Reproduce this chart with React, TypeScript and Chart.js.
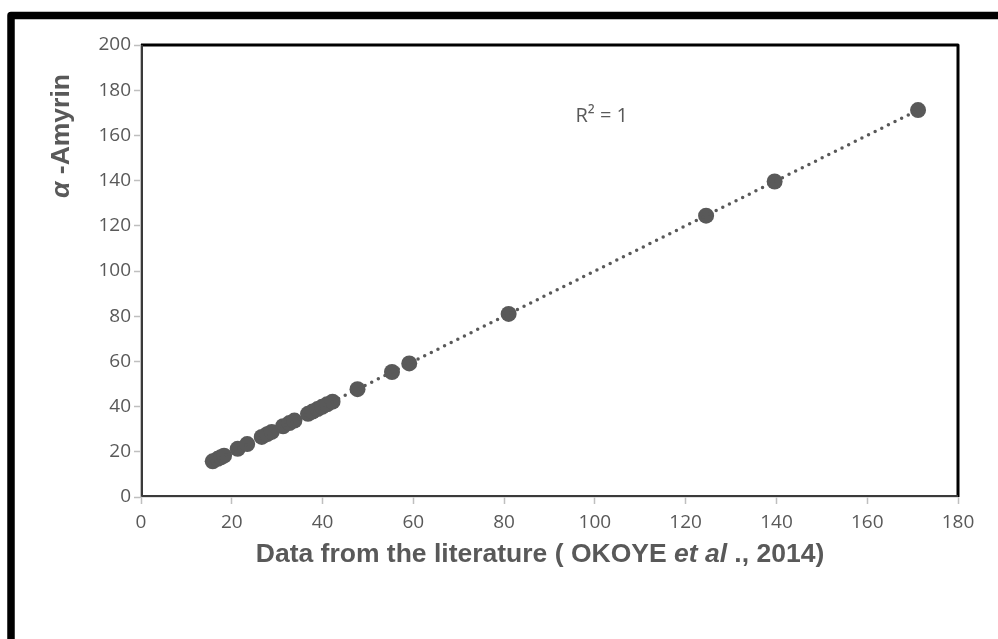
import React, { useEffect, useRef } from "react";
import { Chart, registerables } from "chart.js";

Chart.register(...registerables);

const literature: number[] = [15.8, 16.9, 17.6, 18.3, 21.3, 23.4, 26.6, 27.8, 28.8, 31.3, 32.7, 33.8, 36.8, 37.8, 38.9, 39.9, 41.0, 42.2, 47.7, 55.3, 59.1, 81.0, 124.5, 139.6, 171.2];
const amyrin: number[] = [15.8, 16.9, 17.6, 18.3, 21.3, 23.4, 26.6, 27.8, 28.8, 31.3, 32.7, 33.8, 36.8, 37.8, 38.9, 39.9, 41.0, 42.2, 47.7, 55.3, 59.1, 81.0, 124.5, 139.6, 171.2];
const xTicks: number[] = [0, 20, 40, 60, 80, 100, 120, 140, 160, 180];
const yTicks: number[] = [0, 20, 40, 60, 80, 100, 120, 140, 160, 180, 200];
const rSquaredLabel = "R² = 1";

function regression(xs: number[], ys: number[]) {
  const n = xs.length;
  const mx = xs.reduce((a, b) => a + b, 0) / n;
  const my = ys.reduce((a, b) => a + b, 0) / n;
  let sxy = 0, sxx = 0;
  for (let i = 0; i < n; i++) {
    sxy += (xs[i] - mx) * (ys[i] - my);
    sxx += (xs[i] - mx) * (xs[i] - mx);
  }
  const slope = sxy / sxx;
  return { slope, intercept: my - slope * mx };
}

const GREY = "#595959";

const decorPlugin = {
  id: "decor",
  afterDraw(chart: any) {
    const ctx = chart.ctx as CanvasRenderingContext2D;
    const a = chart.chartArea;
    ctx.save();
    // outer frame
    ctx.strokeStyle = "#000";
    ctx.lineWidth = 7.5;
    ctx.lineJoin = "round";
    ctx.strokeRect(11, 15.5, 1100, 800);
    // plot border
    ctx.lineWidth = 3;
    ctx.strokeStyle = "#000";
    ctx.beginPath();
    ctx.moveTo(a.left, a.top);
    ctx.lineTo(a.right, a.top);
    ctx.lineTo(a.right, a.bottom);
    ctx.stroke();
    ctx.lineWidth = 2;
    ctx.strokeStyle = "#3a3a3a";
    ctx.beginPath();
    ctx.moveTo(a.left + 1, a.top);
    ctx.lineTo(a.left + 1, a.bottom - 1);
    ctx.lineTo(a.right, a.bottom - 1);
    ctx.stroke();

    // x title with mixed styles
    const xs = chart.scales.x;
    const segs = [
      { t: "Data from the literature ( OKOYE ", f: "bold 26.5px 'Liberation Sans', Arial, sans-serif" },
      { t: "et al", f: "italic bold 26.5px 'Liberation Sans', Arial, sans-serif" },
      { t: " ., 2014)", f: "bold 26.5px 'Liberation Sans', Arial, sans-serif" },
    ];
    ctx.fillStyle = GREY;
    ctx.textBaseline = "alphabetic";
    ctx.textAlign = "left";
    let total = 0;
    for (const s of segs) { ctx.font = s.f; total += ctx.measureText(s.t).width; }
    let x = 540 - total / 2;
    for (const s of segs) { ctx.font = s.f; ctx.fillText(s.t, x, 562); x += ctx.measureText(s.t).width; }

    // y title
    const ysegs = [
      { t: "α", f: "italic bold 26.5px 'Liberation Sans', Arial, sans-serif" },
      { t: " -Amyrin", f: "bold 26.5px 'Liberation Sans', Arial, sans-serif" },
    ];
    ctx.save();
    ctx.translate(69, 136);
    ctx.rotate(-Math.PI / 2);
    total = 0;
    for (const s of ysegs) { ctx.font = s.f; total += ctx.measureText(s.t).width; }
    x = -total / 2;
    for (const s of ysegs) { ctx.font = s.f; ctx.fillText(s.t, x, 0); x += ctx.measureText(s.t).width; }
    ctx.restore();

    // R² annotation
    ctx.font = "20px 'Open Sans', sans-serif";
    ctx.textAlign = "center";
    ctx.textBaseline = "middle";
    ctx.fillText(rSquaredLabel, xs.getPixelForValue(101.5), chart.scales.y.getPixelForValue(168.5));
    ctx.restore();
  },
};

export default function App() {
  const ref = useRef<HTMLCanvasElement | null>(null);
  useEffect(() => {
    if (!ref.current) return;
    const { slope, intercept } = regression(literature, amyrin);
    const xMin = Math.min(...literature);
    const xMax = Math.max(...literature);
    const trend = [
      { x: xMin, y: slope * xMin + intercept },
      { x: xMax, y: slope * xMax + intercept },
    ];
    const points = literature.map((v, i) => ({ x: v, y: amyrin[i] }));
    const tickFont = { family: "'Open Sans', sans-serif", size: 19 };
    const chart = new Chart(ref.current, {
      type: "scatter",
      data: {
        datasets: [
          {
            type: "line",
            data: trend,
            borderColor: GREY,
            borderWidth: 3.5,
            borderDash: [0, 7.4],
            borderCapStyle: "round",
            pointRadius: 0,
            fill: false,
          } as any,
          {
            data: points,
            backgroundColor: GREY,
            borderWidth: 0,
            pointRadius: 8,
            pointHoverRadius: 8,
          },
        ],
      },
      options: {
        animation: false,
        responsive: true,
        maintainAspectRatio: false,
        events: [],
        layout: { padding: { left: 0, right: 40, top: 45, bottom: 0 } },
        plugins: { legend: { display: false }, tooltip: { enabled: false } },
        scales: {
          x: {
            type: "linear",
            min: 0,
            max: 180,
            afterFit: (s: any) => { s.height = 142; },
            afterBuildTicks: (s: any) => { s.ticks = xTicks.map((v) => ({ value: v })); },
            ticks: { color: GREY, font: tickFont, padding: 7 },
            grid: { display: true, drawOnChartArea: false, drawTicks: true, tickLength: 7, tickColor: "#bfbfbf", tickWidth: 1.5 },
            border: { display: true, color: "#bfbfbf", width: 1.5 },
          },
          y: {
            type: "linear",
            min: 0,
            max: 200,
            afterFit: (s: any) => { s.width = 141; },
            afterBuildTicks: (s: any) => { s.ticks = yTicks.map((v) => ({ value: v })); },
            ticks: { color: GREY, font: tickFont, padding: 3 },
            grid: { display: true, drawOnChartArea: false, drawTicks: true, tickLength: 7, tickColor: "#bfbfbf", tickWidth: 1.5 },
            border: { display: true, color: "#bfbfbf", width: 1.5 },
          },
        },
      },
      plugins: [decorPlugin],
    });
    return () => chart.destroy();
  }, []);
  return (
    <div style={{ position: "fixed", left: 0, top: 0, width: 998, height: 639, background: "#fff" }}>
      <canvas ref={ref} />
    </div>
  );
}
